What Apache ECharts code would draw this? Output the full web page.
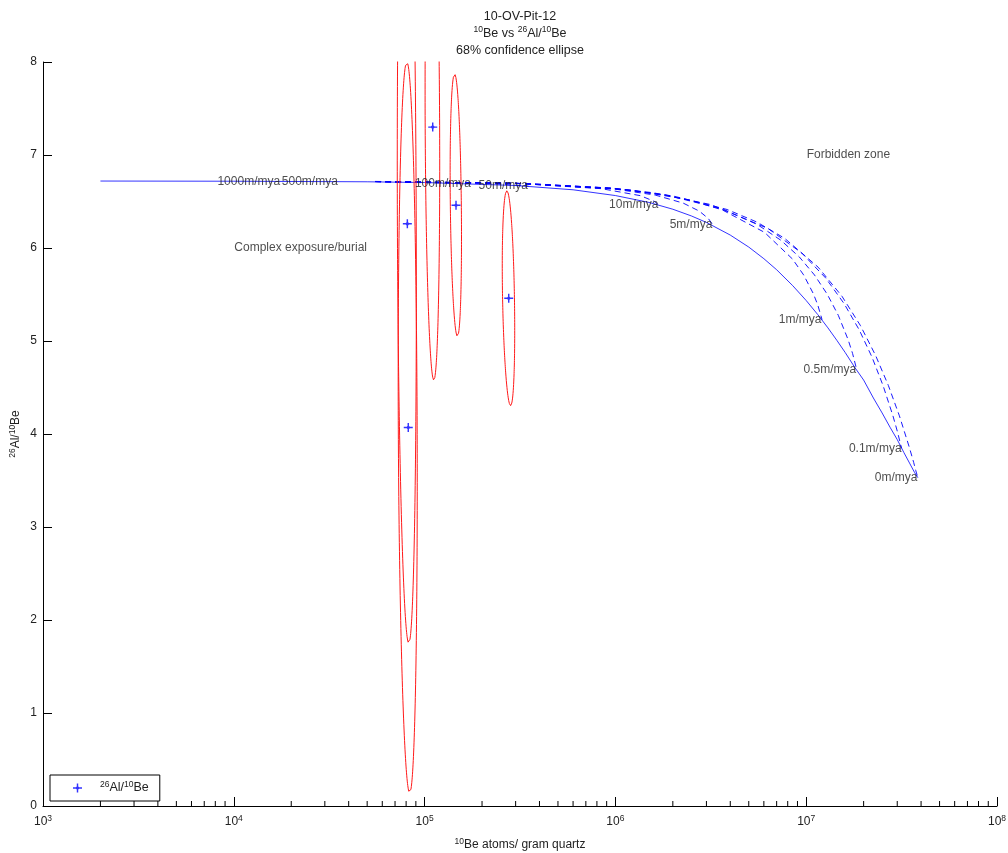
<!DOCTYPE html>
<html><head><meta charset="utf-8">
<script src="https://cdn.jsdelivr.net/npm/echarts@6/dist/echarts.min.js"></script>
<style>html,body{margin:0;padding:0;background:#fff}#chart{width:1008px;height:853px}</style>
</head><body><div id="chart"></div>
<script>
// ---------------- data ----------------
// samples (centre of each 68% ellipse)
const sampleBe = [82100, 81200, 110300, 146100, 276000];
const sampleRatio = [4.07, 6.26, 7.30, 6.46, 5.46];
// ellipse half-extents and correlation
const ellipseHalfBe = [9400, 9300, 9700, 10000, 20700];
const ellipseHalfRatio = [3.93, 4.51, 2.72, 1.41, 1.155];
const ellipseCorr = [-0.15, -0.15, -0.15, -0.25, -0.3];

// steady-state erosion line (solid)
const steadyBe = [2000, 1e4, 5e4, 1e5, 3e5, 6e5, 1e6, 1.5e6, 2e6, 2.5e6, 3e6, 4e6, 5e6, 6e6, 7e6, 8.5e6, 1e7, 1.15e7, 1.3e7, 1.45e7, 1.6e7, 1.8e7, 2e7, 2.25e7, 2.5e7, 2.75e7, 3e7, 3.25e7, 3.5e7, 3.7e7, 3.85e7];
const steadyRatio = [6.72, 6.718, 6.712, 6.704, 6.672, 6.626, 6.564, 6.49, 6.417, 6.345, 6.275, 6.139, 6.010, 5.885, 5.766, 5.595, 5.435, 5.284, 5.141, 5.005, 4.877, 4.714, 4.580, 4.387, 4.226, 4.073, 3.940, 3.801, 3.678, 3.585, 3.53];

// constant-exposure paths for several erosion rates (dashed)
const exp0Be = [5.5e4, 3.85e5, 1e6, 2e6, 3.85e6, 5.5e6, 7.7e6, 1.155e7, 1.54e7, 1.925e7, 2.31e7, 2.695e7, 3.08e7, 3.465e7, 3.66e7, 3.754e7, 3.85e7];
const exp0Ratio = [6.715, 6.689, 6.64, 6.56, 6.414, 6.28, 6.105, 5.794, 5.481, 5.165, 4.845, 4.522, 4.195, 3.862, 3.693, 3.605, 3.53];
const exp01Be = [5.5e4, 3e5, 9.5e5, 1.58e6, 3.16e6, 6.32e6, 9.48e6, 1.264e7, 1.58e7, 1.897e7, 2.213e7, 2.529e7, 2.845e7, 3.003e7, 3.161e7];
const exp01Ratio = [6.715, 6.696, 6.645, 6.594, 6.467, 6.209, 5.946, 5.678, 5.402, 5.119, 4.826, 4.520, 4.199, 4.029, 3.847];
const exp05Be = [5.5e4, 3e5, 9.2e5, 1.842e6, 3.68e6, 5.53e6, 7.37e6, 9.21e6, 1.105e7, 1.289e7, 1.474e7, 1.658e7, 1.75e7, 1.842e7];
const exp05Ratio = [6.715, 6.696, 6.646, 6.570, 6.416, 6.254, 6.083, 5.903, 5.710, 5.503, 5.275, 5.015, 4.866, 4.687];
const exp1Be = [5.5e4, 3e5, 1.211e6, 2.42e6, 3.63e6, 6.05e6, 8.48e6, 9.69e6, 1.09e7, 1.15e7, 1.211e7];
const exp1Ratio = [6.715, 6.695, 6.623, 6.519, 6.41, 6.168, 5.881, 5.711, 5.509, 5.387, 5.229];
const exp5Be = [5.5e4, 3e5, 9.7e5, 1.618e6, 2.265e6, 2.75e6, 3.07e6, 3.235e6];
const exp5Ratio = [6.715, 6.696, 6.637, 6.569, 6.483, 6.397, 6.317, 6.25];
const exp10Be = [5.5e4, 3e5, 8.44e5, 1.351e6, 1.605e6, 1.689e6];
const exp10Ratio = [6.715, 6.696, 6.638, 6.563, 6.50, 6.462];
const exp50Be = [5.5e4, 2e5, 3.5e5];
const exp50Ratio = [6.716, 6.70, 6.665];
const exp100Be = [5.5e4, 1.76e5];
const exp100Ratio = [6.713, 6.692];

// erosion-rate labels on the steady-state line
const erosionLabelText = ['1000m/mya', '500m/mya', '100m/mya', '50m/mya', '10m/mya', '5m/mya', '1m/mya', '0.5m/mya', '0.1m/mya', '0m/mya'];
const erosionLabelBe = [1.76e4, 3.53e4, 1.76e5, 3.5e5, 1.69e6, 3.24e6, 1.21e7, 1.84e7, 3.18e7, 3.85e7];
const erosionLabelRatio = [6.718, 6.716, 6.692, 6.665, 6.462, 6.25, 5.229, 4.687, 3.847, 3.53];

// region annotations
const noteText = ['Forbidden zone', 'Complex exposure/burial'];
const noteBe = [1e7, 1e4];
const noteRatio = [7, 6];

// axis
const xMin = 1e3, xMax = 1e8;
const yMin = 0, yMax = 8, yStep = 1;
const xMinorTicks = [
  2e3, 3e3, 4e3, 5e3, 6e3, 7e3, 8e3, 9e3,
  2e4, 3e4, 4e4, 5e4, 6e4, 7e4, 8e4, 9e4,
  2e5, 3e5, 4e5, 5e5, 6e5, 7e5, 8e5, 9e5,
  2e6, 3e6, 4e6, 5e6, 6e6, 7e6, 8e6, 9e6,
  2e7, 3e7, 4e7, 5e7, 6e7, 7e7, 8e7, 9e7
];

// ---------------- build ----------------
const zip = (a, b) => a.map((v, i) => [v, b[i]]);
function ellipse(i) {
  const pts = [];
  const n = 240;
  const r = ellipseCorr[i];
  const s = Math.sqrt(1 - r * r);
  for (let k = 0; k <= n; k++) {
    const t = 2 * Math.PI * k / n;
    pts.push([sampleBe[i] + ellipseHalfBe[i] * Math.cos(t),
              sampleRatio[i] + ellipseHalfRatio[i] * (r * Math.cos(t) + s * Math.sin(t))]);
  }
  return pts;
}
const BLUE = '#0000ff', RED = '#ff1a1a';
const FONT = 'Liberation Sans, Arial, Helvetica, sans-serif';
const supRich = { sup: { fontSize: 8.5, lineHeight: 8, verticalAlign: 'top' } };

const series = [];
series.push({ type: 'line', data: zip(steadyBe, steadyRatio), symbol: 'none', clip: true,
  lineStyle: { color: BLUE, width: 0.8 }, silent: true });
[[exp0Be, exp0Ratio], [exp01Be, exp01Ratio], [exp05Be, exp05Ratio], [exp1Be, exp1Ratio],
 [exp5Be, exp5Ratio], [exp10Be, exp10Ratio], [exp50Be, exp50Ratio], [exp100Be, exp100Ratio]].forEach(([b, r]) => {
  series.push({ type: 'line', data: zip(b, r), symbol: 'none', clip: true,
    lineStyle: { color: BLUE, width: 0.9, type: [6, 4] }, silent: true });
});
for (let i = 0; i < sampleBe.length; i++) {
  series.push({ type: 'line', data: ellipse(i), symbol: 'none', clip: true,
    lineStyle: { color: RED, width: 1 }, silent: true });
}
const STAR = 'path://M-0.8,-5L0.8,-5L0.8,-0.8L5,-0.8L5,0.8L0.8,0.8L0.8,5L-0.8,5L-0.8,0.8L-5,0.8L-5,-0.8L-0.8,-0.8Z M0,-2.6L2.6,0L0,2.6L-2.6,0Z';
series.push({ type: 'scatter', name: 'pts', data: zip(sampleBe, sampleRatio), symbol: STAR, symbolSize: 9,
  itemStyle: { color: BLUE }, z: 5 });
series.push({ type: 'scatter', data: erosionLabelText.map((t, i) => ({ name: t, value: [erosionLabelBe[i], erosionLabelRatio[i]] })),
  symbolSize: 1, itemStyle: { color: 'rgba(0,0,0,0)' }, silent: true, z: 6,
  label: { show: true, position: 'left', distance: 0, formatter: '{b}', color: '#222', fontSize: 12, fontFamily: FONT } });
series.push({ type: 'scatter', data: noteText.map((t, i) => ({ name: t, value: [noteBe[i], noteRatio[i]] })),
  symbolSize: 1, itemStyle: { color: 'rgba(0,0,0,0)' }, silent: true, z: 6,
  label: { show: true, position: 'right', distance: 0, formatter: '{b}', color: '#222', fontSize: 12, fontFamily: FONT } });
series.push({ type: 'custom', data: xMinorTicks.map(v => [v, 0]), clip: false, silent: true, z: 7,
  renderItem: (params, api) => {
    const p = api.coord([api.value(0), api.value(1)]);
    return { type: 'line', shape: { x1: p[0], y1: p[1], x2: p[0], y2: p[1] - 5 },
      style: { stroke: '#000', lineWidth: 1 } };
  } });

const chart = echarts.init(document.getElementById('chart'), null, { renderer: 'canvas' });
chart.setOption({
  animation: false,
  backgroundColor: '#fff',
  textStyle: { fontFamily: FONT },
  title: {
    text: '10-OV-Pit-12\n{sup|10}Be vs {sup|26}Al/{sup|10}Be\n68% confidence ellipse',
    left: 520, top: 8, padding: 0, textAlign: 'center',
    textStyle: { fontSize: 12.5, fontWeight: 'normal', color: '#222', lineHeight: 17, fontFamily: FONT, rich: supRich }
  },
  legend: {
    data: [{ name: 'pts', icon: STAR }], left: 50, top: 775, padding: [5, 11, 5, 23], itemWidth: 9, itemHeight: 9,
    itemGap: 0, selectedMode: false,
    borderColor: '#000', borderWidth: 1, borderRadius: 0, backgroundColor: '#fff',
    formatter: () => '{sup|26}Al/{sup|10}Be',
    textStyle: { fontSize: 12.5, color: '#222', lineHeight: 16, padding: [0, 0, 0, 13], fontFamily: FONT, rich: supRich }
  },
  grid: { left: 43, right: 11, top: 62, bottom: 47, containLabel: false, outerBoundsMode: 'none' },
  xAxis: {
    type: 'log', logBase: 10, min: xMin, max: xMax,
    name: '{sup|10}Be atoms/ gram quartz', nameLocation: 'middle', nameGap: 31, nameMoveOverlap: false,
    nameTextStyle: { fontSize: 12, color: '#222', lineHeight: 16, fontFamily: FONT, rich: supRich },
    axisLine: { show: true, lineStyle: { color: '#000', width: 1 } },
    axisTick: { show: true, inside: true, length: 9, lineStyle: { color: '#000', width: 1 } },
    minorTick: { show: false },
    splitLine: { show: false },
    axisLabel: { margin: 8, color: '#222', fontSize: 12, lineHeight: 16, fontFamily: FONT,
      formatter: v => '10{sup|' + Math.round(Math.log10(v)) + '}', rich: supRich }
  },
  yAxis: {
    type: 'value', min: yMin, max: yMax, interval: yStep,
    name: '{sup|26}Al/{sup|10}Be', nameLocation: 'middle', nameGap: 19, nameRotate: 90, nameMoveOverlap: false,
    nameTextStyle: { fontSize: 12, color: '#222', lineHeight: 16, fontFamily: FONT, rich: supRich },
    axisLine: { show: true, lineStyle: { color: '#000', width: 1 } },
    axisTick: { show: true, inside: true, length: 9, lineStyle: { color: '#000', width: 1 } },
    splitLine: { show: false },
    axisLabel: { margin: 6, color: '#222', fontSize: 12, fontFamily: FONT }
  },
  series: series
});
</script></body></html>
